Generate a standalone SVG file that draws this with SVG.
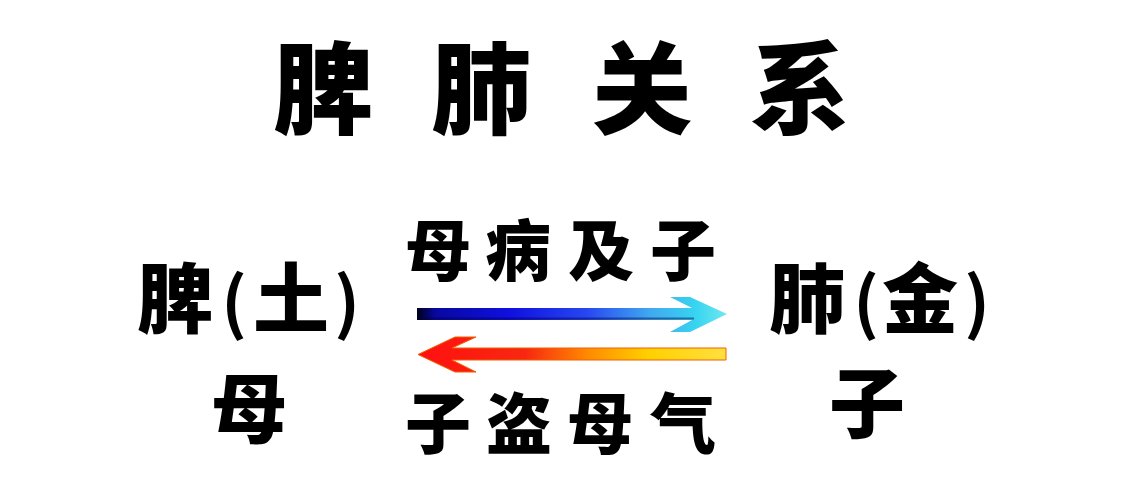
<svg xmlns="http://www.w3.org/2000/svg" width="1123" height="500" viewBox="0 0 1123 500">
  <style>
    .t { font-family: "Noto Sans CJK SC", "Noto Sans", "Liberation Sans", sans-serif; font-weight: 900; fill: #000; text-anchor: middle; }
    .title { font-size: 100px; }
    .node { font-size: 76px; }
    .lbl { font-size: 66px; }
    .p { font-weight: 700; font-size: 68px; }
  </style>
  <defs>
    <linearGradient id="gBlue" gradientUnits="userSpaceOnUse" x1="417" y1="0" x2="727" y2="0">
      <stop offset="0" stop-color="#000018"/>
      <stop offset="0.06" stop-color="#0808a0"/>
      <stop offset="0.3" stop-color="#1010e0"/>
      <stop offset="0.55" stop-color="#2848f0"/>
      <stop offset="0.75" stop-color="#40a8f0"/>
      <stop offset="0.9" stop-color="#38d4f0"/>
      <stop offset="1" stop-color="#70e8f0"/>
    </linearGradient>
    <linearGradient id="gRed" gradientUnits="userSpaceOnUse" x1="418" y1="0" x2="726" y2="0">
      <stop offset="0" stop-color="#ff1010"/>
      <stop offset="0.35" stop-color="#f82810"/>
      <stop offset="0.55" stop-color="#ff8a00"/>
      <stop offset="0.75" stop-color="#ffd000"/>
      <stop offset="1" stop-color="#ffe040"/>
    </linearGradient>
  </defs>
  <rect width="1123" height="500" fill="#fff"/>

  <g id="title">
    <text class="t title" x="323 481 642 800" y="126">脾肺关系</text>
  </g>

  <g id="spleen">
    <text class="t node" x="175 234 291 347" y="327">脾<tspan class="p">(</tspan>土<tspan class="p">)</tspan></text>
    <text class="t node" x="249" y="437">母</text>
  </g>

  <g id="lung">
    <text class="t node" x="807 866 920 977" y="327">肺<tspan class="p">(</tspan>金<tspan class="p">)</tspan></text>
    <text class="t node" x="867" y="432">子</text>
  </g>

  <g id="connectors">
    <path d="M417,308 H692 L670,297 H690 L727,314 L690,332 H670 L692,320 H417 Z" fill="url(#gBlue)"/>
    <path d="M417,318.5 H694" stroke="#000040" stroke-width="2" opacity="0.45"/>
    <text class="t lbl" x="438 518 601 683" y="275">母病及子</text>
    <path d="M726,348 H452 L476,337 H455 L418,354.5 L455,372 H476 L452,360 H726 Z" fill="url(#gRed)" stroke="#f06000" stroke-width="1"/>
    <text class="t lbl" x="438 519 600 683" y="448">子盗母气</text>
  </g>
</svg>
